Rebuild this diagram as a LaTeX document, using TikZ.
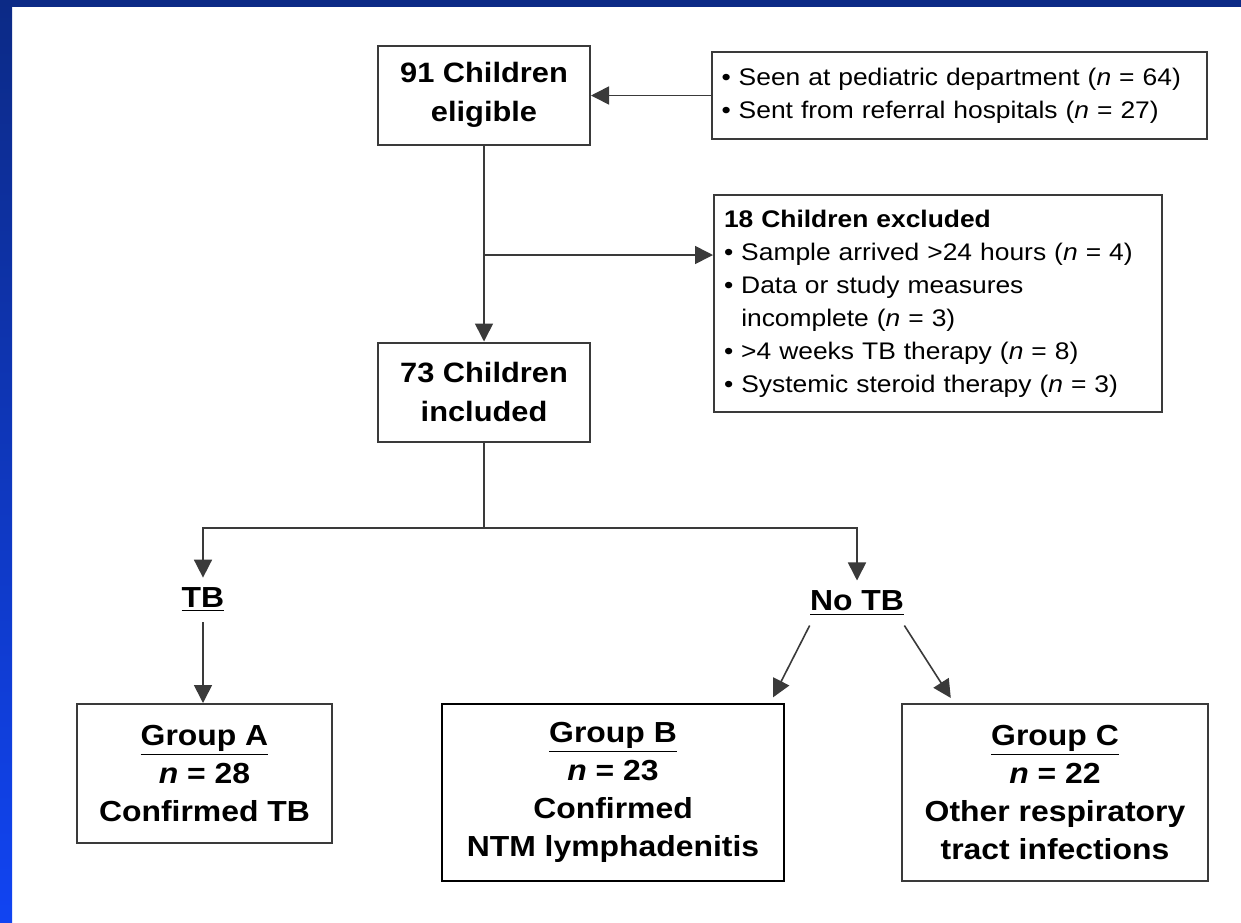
\documentclass[tikz,border=0pt]{standalone}
\usepackage{fontspec}
\setmainfont{Liberation Sans}[FakeStretch=1.1]
\usetikzlibrary{positioning, arrows.meta}
\definecolor{slidetop}{HTML}{0C2A86}
\definecolor{slidebottom}{HTML}{1144F2}
\definecolor{linegray}{HTML}{3A3A3A}

\begin{document}
\begin{tikzpicture}[
	x=0.5pt, y=-0.5pt,
	every node/.style={inner sep=0pt},
	mainbox/.style={draw=linegray, line width=1pt, fill=white, align=center, minimum width=106pt, minimum height=49.5pt, font=\bfseries\fontsize{14}{19.5}\selectfont},
	listbox/.style={draw=linegray, line width=1pt, fill=white, align=left, font=\fontsize{12}{16.5}\selectfont},
	groupbox/.style={draw=linegray, line width=1pt, fill=white, align=center, minimum height=88.5pt, font=\bfseries\fontsize{14.5}{19}\selectfont},
	branch/.style={font=\bfseries\fontsize{14.5}{17}\selectfont},
	link/.style={draw=linegray, line width=0.8pt},
	arrow/.style={link, -{Triangle[length=9pt, width=9pt]}}
	]
	\useasboundingbox (0,0) rectangle (1241,922);
	\fill[white] (0,0) rectangle (1241,922);
	\shade[top color=slidetop, bottom color=slidebottom] (0,0) rectangle (12,922);
	\fill[slidetop] (0,0) rectangle (1241,7);

	\node[mainbox] (elig) at (484,95) {91 Children\\eligible};
	\node[listbox, text width=238pt, inner xsep=4.75pt, minimum height=43.5pt] (src) at (959.5,95.5)
		{\textbullet\ Seen at pediatric department (\textit{n} = 64)\\
		\textbullet\ Sent from referral hospitals (\textit{n} = 27)};
	\node[mainbox] (incl) at (484,392) {73 Children\\included};
	\node[listbox, text width=214pt, inner xsep=5pt, minimum height=108.5pt] (excl) at (938,303.5)
		{\textbf{18 Children excluded}\\
		\textbullet\ Sample arrived >24 hours (\textit{n} = 4)\\
		\textbullet\ Data or study measures\\
		\hphantom{\textbullet\ }incomplete (\textit{n} = 3)\\
		\textbullet\ >4 weeks TB therapy (\textit{n} = 8)\\
		\textbullet\ Systemic steroid therapy (\textit{n} = 3)};
	\node[branch, inner sep=5pt] (tb) at (203,600) {\underline{TB}};
	\node[branch, inner ysep=5pt] (notb) at (857,603) {\underline{No TB}};
	\node[groupbox, minimum width=127.5pt, minimum height=69.5pt] (grpA) at (204.5,773.5)
		{\underline{Group A}\\\textit{n} = 28\\Confirmed TB};
	\node[groupbox, minimum width=171pt, draw=black, line width=1.3pt] (grpB) at (613,792.5)
		{\underline{Group B}\\\textit{n} = 23\\Confirmed\\NTM lymphadenitis};
	\node[groupbox, minimum width=153pt] (grpC) at (1055,792.5)
		{\underline{Group C}\\\textit{n} = 22\\Other respiratory\\tract infections};

	\coordinate (split) at (484,255);
	\coordinate (fork) at (484,528);
	\draw[arrow] (src.west) -- (src.west -| elig.east);
	\draw[arrow] (elig.south) -- (incl.north);
	\draw[arrow] (split) -- (split -| excl.west);
	\draw[link] (incl.south) -- (fork);
	\draw[arrow] (fork) -| (tb.north);
	\draw[arrow] (fork) -| (notb.north);
	\draw[arrow] (tb.south) -- (tb.south |- grpA.north);
	\draw[arrow, shorten >=3pt] (notb.south west) -- ([xshift=-7.5pt]grpB.north east);
	\draw[arrow, shorten >=3pt] (notb.south east) -- ([xshift=26.5pt]grpC.north west);
\end{tikzpicture}
\end{document}
